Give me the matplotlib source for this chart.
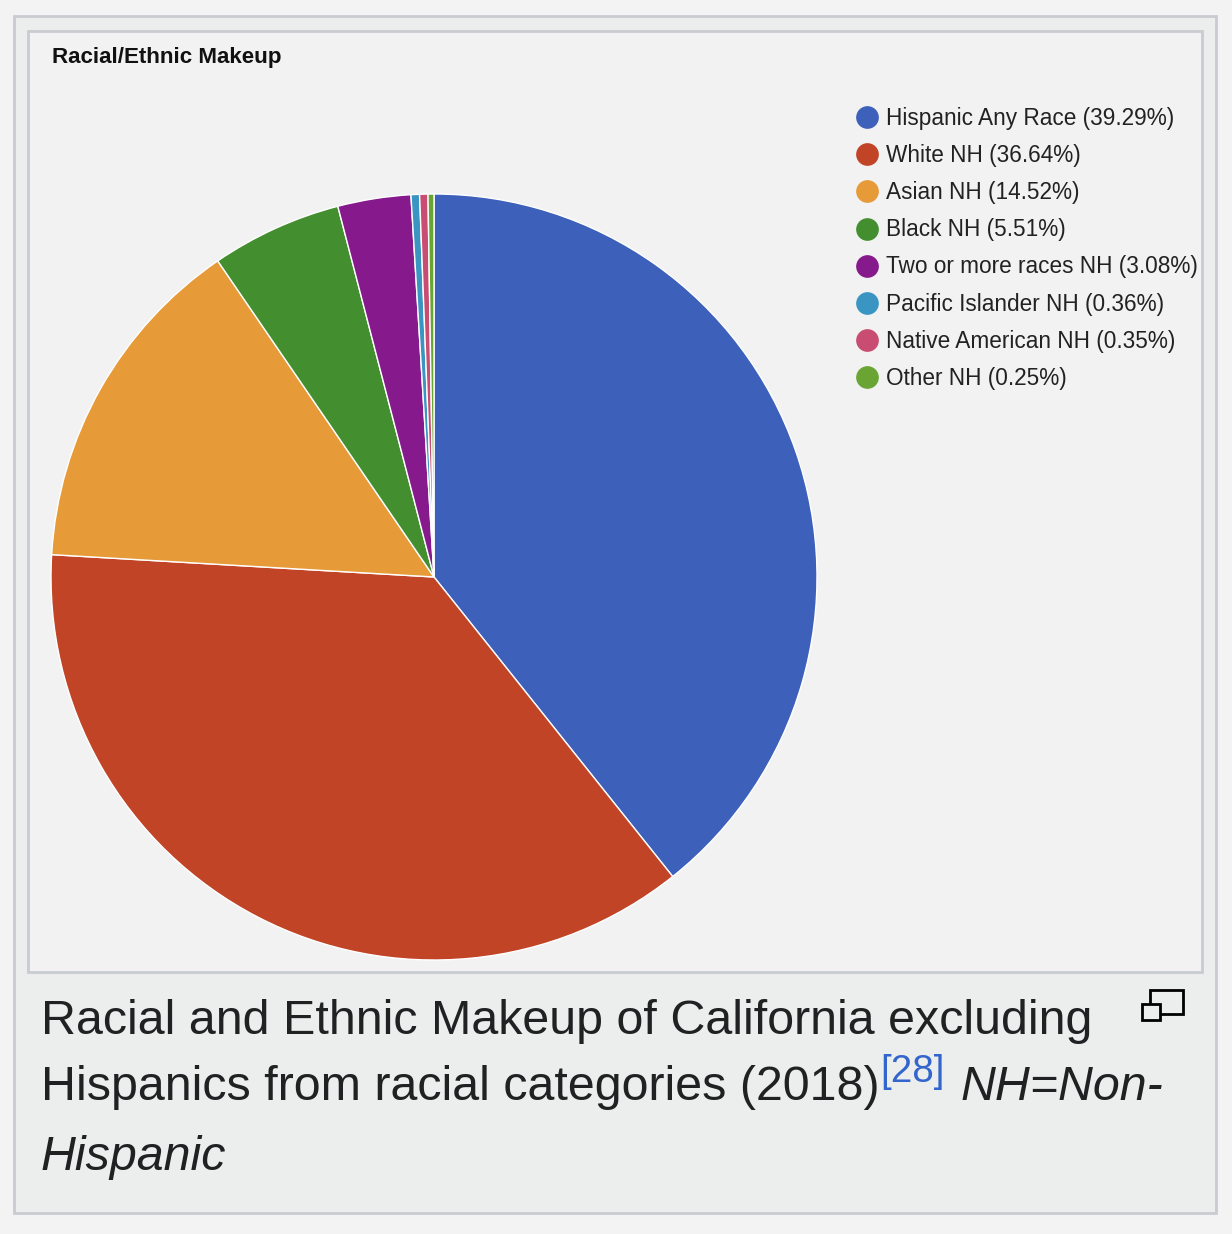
import matplotlib.pyplot as plt
from matplotlib.patches import Rectangle

labels = ['Hispanic Any Race', 'White NH', 'Asian NH', 'Black NH',
          'Two or more races NH', 'Pacific Islander NH', 'Native American NH', 'Other NH']
shares = [39.29, 36.64, 14.52, 5.51, 3.08, 0.36, 0.35, 0.25]
colors = ['#3d60bb', '#c04425', '#e69a38', '#438f2f',
          '#861a8c', '#3b95c2', '#c94c72', '#6aa533']

W, H = 1232, 1234
fig = plt.figure(figsize=(W / 100, H / 100), dpi=100)
fig.patch.set_facecolor('#f3f3f3')
plt.rcParams['font.family'] = ['Liberation Sans', 'DejaVu Sans']

# overlay in pixel coordinates for the frame, legend and caption
bg = fig.add_axes([0, 0, 1, 1])
bg.set_xlim(0, W)
bg.set_ylim(H, 0)
bg.axis('off')
bg.add_patch(Rectangle((13.5, 15.5), 1202, 1197, facecolor='#eceded', edgecolor='#c8ccd1', lw=2))
bg.add_patch(Rectangle((27.5, 30.5), 1174, 941, facecolor='#f2f2f2', edgecolor='#c8ccd1', lw=2))

bg.text(52, 57, 'Racial/Ethnic Makeup', fontsize=16.1, fontweight='bold',
        va='center', ha='left', color='#111111')

# legend
for i, (lab, val, col) in enumerate(zip(labels, shares, colors)):
    y = 117 + i * 37.2
    bg.scatter(866.5, y, s=235, color=col, zorder=3)
    bg.text(886, y + 1, f'{lab} ({val:.2f}%)', fontsize=16.3, va='center', ha='left', color='#222222')

# pie
cx, cy, r = 434, 577, 383
pax = fig.add_axes([(cx - r) / W, 1 - (cy + r) / H, 2 * r / W, 2 * r / H])
pax.pie(shares, colors=colors, startangle=90, counterclock=False,
        wedgeprops=dict(edgecolor='white', linewidth=1))
pax.set_xlim(-1, 1)
pax.set_ylim(-1, 1)
pax.set_aspect('equal')
pax.axis('off')

# caption
fig.canvas.draw()
rend = fig.canvas.get_renderer()
cap_size = 34.8
bg.text(41, 1021, 'Racial and Ethnic Makeup of California excluding', fontsize=cap_size,
        va='center', ha='left', color='#202122')
t1 = bg.text(41, 1088, 'Hispanics from racial categories (2018)', fontsize=cap_size,
             va='center', ha='left', color='#202122')
bb = t1.get_window_extent(rend)
t2 = bg.text(bb.x1 + 1, 1072, '[28]', fontsize=cap_size * 0.8, va='center', ha='left',
             color='#3366cc')
bb2 = t2.get_window_extent(rend)
bg.text(bb2.x1 + 16, 1088, 'NH=Non-', fontsize=cap_size, style='italic',
        va='center', ha='left', color='#202122')
bg.text(41, 1158, 'Hispanic', fontsize=cap_size, style='italic',
        va='center', ha='left', color='#202122')

# enlarge icon
bg.add_patch(Rectangle((1150, 990), 33, 24, facecolor='none', edgecolor='black', lw=2))
bg.add_patch(Rectangle((1142, 1004), 18, 16, facecolor='#eceded', edgecolor='black', lw=2, zorder=3))

fig.savefig('out.png', dpi=100, facecolor=fig.get_facecolor())
